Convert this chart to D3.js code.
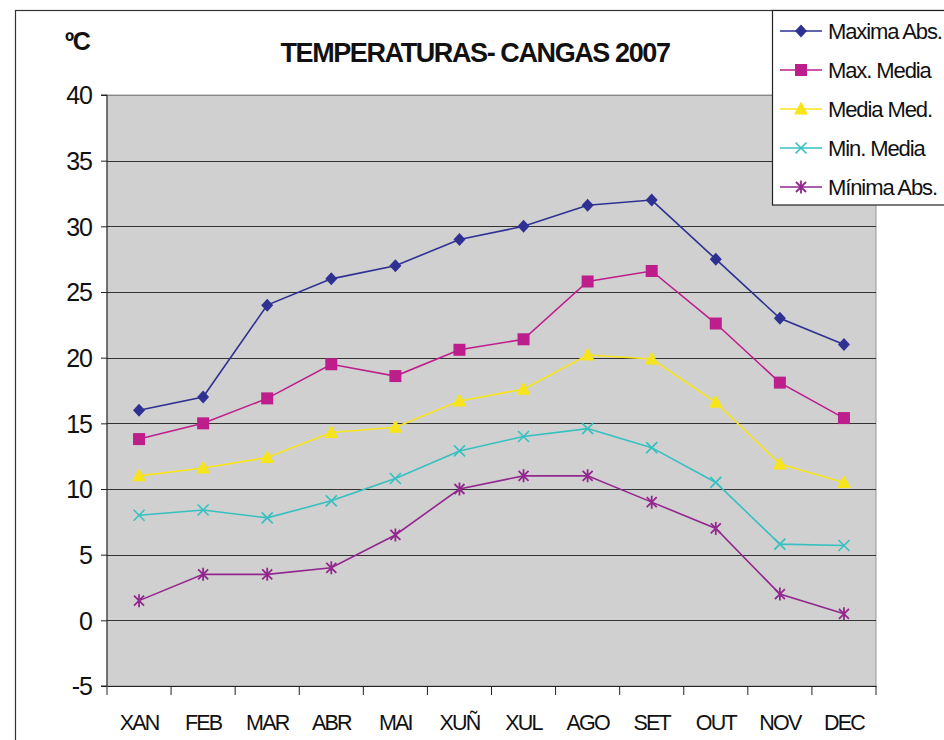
<!DOCTYPE html>
<html><head><meta charset="utf-8">
<script src="https://cdn.jsdelivr.net/npm/d3@7"></script>
<style>body{margin:0;background:#fff}svg{display:block;font-family:"Liberation Sans",Arial,sans-serif}</style>
</head><body>
<svg id="c" width="944" height="740"></svg>
<script>
const months = ["XAN","FEB","MAR","ABR","MAI","XUÑ","XUL","AGO","SET","OUT","NOV","DEC"];
const maximaAbs = [16, 17, 24, 26, 27, 29, 30, 31.6, 32, 27.5, 23, 21];
const maxMedia  = [13.8, 15, 16.9, 19.5, 18.6, 20.6, 21.4, 25.8, 26.6, 22.6, 18.1, 15.4];
const mediaMed  = [11, 11.6, 12.4, 14.3, 14.7, 16.7, 17.6, 20.2, 19.9, 16.6, 11.9, 10.5];
const minMedia  = [8, 8.4, 7.8, 9.1, 10.8, 12.9, 14, 14.6, 13.15, 10.5, 5.8, 5.7];
const minimaAbs = [1.5, 3.5, 3.5, 4, 6.5, 10, 11, 11, 9, 7, 2, 0.5];
const seriesNames = ["Maxima Abs.","Max. Media","Media Med.","Min. Media","Mínima Abs."];
const yTicks = [-5,0,5,10,15,20,25,30,35,40];

const series = [
  {name:seriesNames[0], values:maximaAbs, color:"#2E3192", sym:"diamond"},
  {name:seriesNames[1], values:maxMedia,  color:"#BE1E8C", sym:"square"},
  {name:seriesNames[2], values:mediaMed,  color:"#F7E41A", sym:"triangle"},
  {name:seriesNames[3], values:minMedia,  color:"#36C0C0", sym:"x"},
  {name:seriesNames[4], values:minimaAbs, color:"#93278F", sym:"star"}
];

const svg = d3.select("#c");
const L=107, R=876, T=95, B=686;
const x = d3.scaleBand().domain(months).range([L,R]);
const y = d3.scaleLinear().domain([-5,40]).range([B,T]);

// outer chart border
svg.append("rect").attr("x",15.5).attr("y",10.5).attr("width",1000).attr("height",1000)
  .attr("fill","#fff").attr("stroke","#333").attr("stroke-width",1.2);

// plot area
svg.append("rect").attr("x",L).attr("y",T).attr("width",R-L).attr("height",B-T)
  .attr("fill","#D0D0D0").attr("stroke","#999").attr("stroke-width",1);

// gridlines
svg.append("g").selectAll("line").data(yTicks.filter(d=>d>-5)).join("line")
  .attr("x1",L).attr("x2",R).attr("y1",d=>Math.round(y(d))+0.5).attr("y2",d=>Math.round(y(d))+0.5)
  .attr("stroke",d=>d===40?"#888":"#333").attr("stroke-width",1.2);

// y axis
const yAxis = d3.axisLeft(y).tickValues(yTicks).tickSize(6).tickPadding(9).tickFormat(d=>String(d));
const gy = svg.append("g").attr("transform",`translate(${L},0)`).call(yAxis);
gy.select(".domain").attr("stroke","#222").attr("d",`M-6,${T}H0V${B}H-6`);
gy.selectAll(".tick line").attr("stroke","#222");
gy.selectAll("text").attr("font-size",25).attr("fill","#111").attr("letter-spacing","-1").attr("dy","0.35em");

// x axis
const xAxis = d3.axisBottom(x).tickSize(0).tickPadding(25);
const gx = svg.append("g").attr("transform",`translate(0,${B})`).call(xAxis);
gx.select(".domain").attr("stroke","#222");
gx.selectAll("text").attr("font-size",21.5).attr("fill","#111").attr("letter-spacing","-1.8").attr("dy","0.9em");
const bounds = months.map(m=>x(m)).concat([R]);
gx.append("g").selectAll("line").data(bounds).join("line")
  .attr("x1",d=>d).attr("x2",d=>d).attr("y1",0).attr("y2",9).attr("stroke","#222");

// symbols
function drawSym(g, sym, color){
  if(sym==="diamond"){
    g.append("path").attr("d","M0,-6.5L6,0L0,6.5L-6,0Z").attr("fill",color);
  } else if(sym==="square"){
    g.append("rect").attr("x",-6).attr("y",-6).attr("width",12).attr("height",12).attr("fill",color);
  } else if(sym==="triangle"){
    g.append("path").attr("d","M0,-7.5L7,5.5L-7,5.5Z").attr("fill",color);
  } else if(sym==="x"){
    g.append("path").attr("d","M-5.5,-5.5L5.5,5.5M-5.5,5.5L5.5,-5.5").attr("stroke",color).attr("stroke-width",1.6);
  } else if(sym==="star"){
    g.append("path").attr("d","M-5,-5L5,5M-5,5L5,-5M0,-6.5V6.5").attr("stroke",color).attr("stroke-width",1.8);
  }
}

const line = d3.line().x((d,i)=>x(months[i])+x.bandwidth()/2).y(d=>y(d));
series.forEach(s=>{
  svg.append("path").attr("d",line(s.values)).attr("fill","none").attr("stroke",s.color).attr("stroke-width",1.6);
  s.values.forEach((v,i)=>{
    const g = svg.append("g").attr("transform",`translate(${x(months[i])+x.bandwidth()/2},${y(v)})`);
    drawSym(g, s.sym, s.color);
  });
});

// title
svg.append("text").attr("x",475).attr("y",62).attr("text-anchor","middle")
  .attr("font-size",27).attr("font-weight","bold").attr("letter-spacing","-1.4").attr("fill","#111")
  .text("TEMPERATURAS- CANGAS 2007");
svg.append("text").attr("x",65).attr("y",50)
  .attr("font-size",25).attr("font-weight","bold").attr("letter-spacing","-1.5").attr("fill","#111").text("ºC");

// legend
const lg = svg.append("g");
lg.append("rect").attr("x",772.5).attr("y",10.5).attr("width",200).attr("height",194.5)
  .attr("fill","#fff").attr("stroke","#222").attr("stroke-width",1.2);
series.forEach((s,i)=>{
  const yy = 31 + i*39;
  lg.append("line").attr("x1",780).attr("x2",822).attr("y1",yy).attr("y2",yy).attr("stroke",s.color).attr("stroke-width",1.6);
  const g = lg.append("g").attr("transform",`translate(801,${yy})`);
  drawSym(g, s.sym, s.color);
  lg.append("text").attr("x",828).attr("y",yy).attr("dy","0.36em").attr("font-size",22)
    .attr("letter-spacing","-1.1").attr("fill","#111").text(s.name);
});
</script>
</body></html>
